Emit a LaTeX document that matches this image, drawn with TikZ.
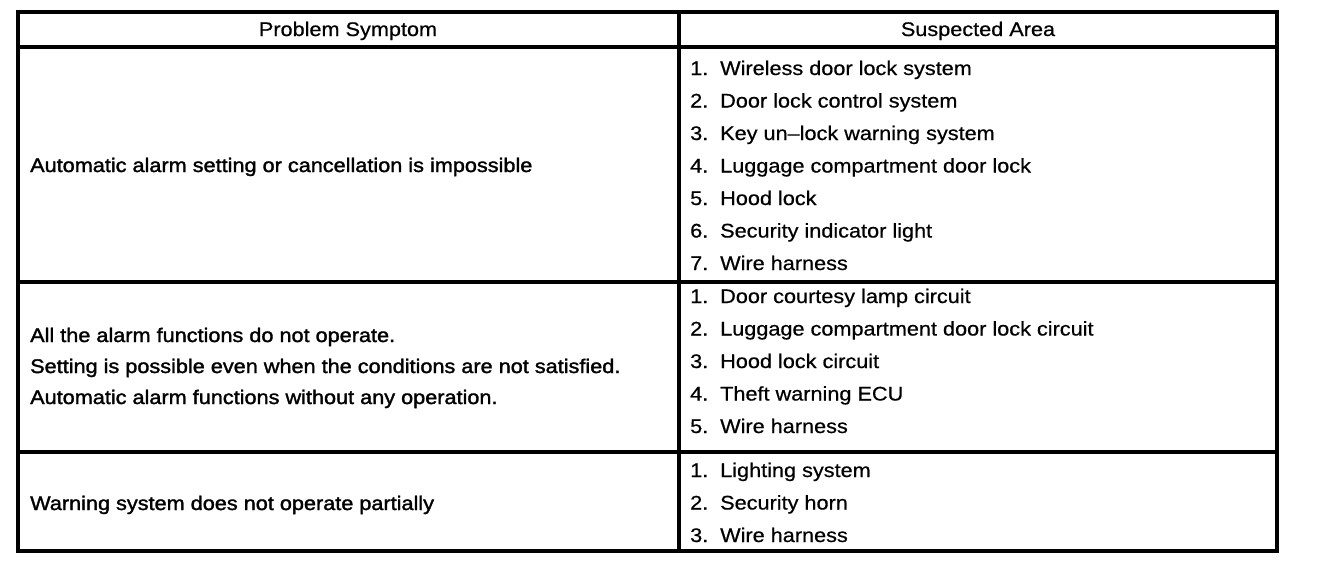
\documentclass[tikz,border=0pt]{standalone}
\usepackage{fontspec}
\newfontfamily\tabfont[FakeStretch=1.1,FakeBold=0.6]{Liberation Sans}
\newfontfamily\tabfontb[FakeStretch=1.1,FakeBold=1.6]{Liberation Sans}
\begin{document}
\begin{tikzpicture}[x=1pt,y=-1pt,
  rule/.style={line width=3.2pt, line cap=rect},
  txt/.style={anchor=base west, inner sep=0pt, font=\fontsize{19.7pt}{24pt}\tabfont},
  ltxt/.style={anchor=base west, inner sep=0pt, font=\fontsize{19.7pt}{24pt}\tabfontb},
  hdr/.style={anchor=base, inner sep=0pt, font=\fontsize{19.7pt}{24pt}\tabfont}]
\useasboundingbox (0,0) rectangle (1328,574);
% grid
\draw[rule] (18,12) rectangle (1277,551);
\draw[rule] (18,47) -- (1277,47);
\draw[rule] (18,282) -- (1277,282);
\draw[rule] (18,452) -- (1277,452);
\draw[rule] (679,12) -- (679,551);
% headers
\node[hdr] (h1) at (348,36) {Problem Symptom};
\node[hdr] (h2) at (978,36) {Suspected Area};
% left column
\node[ltxt] (s1) at (30,172) {Automatic alarm setting or cancellation is impossible};
\node[ltxt] (s2a) at (30,342) {All the alarm functions do not operate.};
\node[ltxt] (s2b) at (30,373) {Setting is possible even when the conditions are not satisfied.};
\node[ltxt] (s2c) at (30,404) {Automatic alarm functions without any operation.};
\node[ltxt] (s3) at (30,510) {Warning system does not operate partially};
% right column, row 1
\foreach \i/\t in {1/Wireless door lock system,2/Door lock control system,3/Key un–lock warning system,4/Luggage compartment door lock,5/Hood lock,6/Security indicator light,7/Wire harness}{
  \node[txt] (a\i n) at (690,{75+32.5*(\i-1)}) {\i.};
  \node[txt] (a\i t) at (720,{75+32.5*(\i-1)}) {\t};
}
% row 2
\foreach \i/\t in {1/Door courtesy lamp circuit,2/Luggage compartment door lock circuit,3/Hood lock circuit,4/Theft warning ECU,5/Wire harness}{
  \node[txt] (b\i n) at (690,{303+32.5*(\i-1)}) {\i.};
  \node[txt] (b\i t) at (720,{303+32.5*(\i-1)}) {\t};
}
% row 3
\foreach \i/\t in {1/Lighting system,2/Security horn,3/Wire harness}{
  \node[txt] (c\i n) at (690,{477+32.5*(\i-1)}) {\i.};
  \node[txt] (c\i t) at (720,{477+32.5*(\i-1)}) {\t};
}
\end{tikzpicture}
\end{document}
